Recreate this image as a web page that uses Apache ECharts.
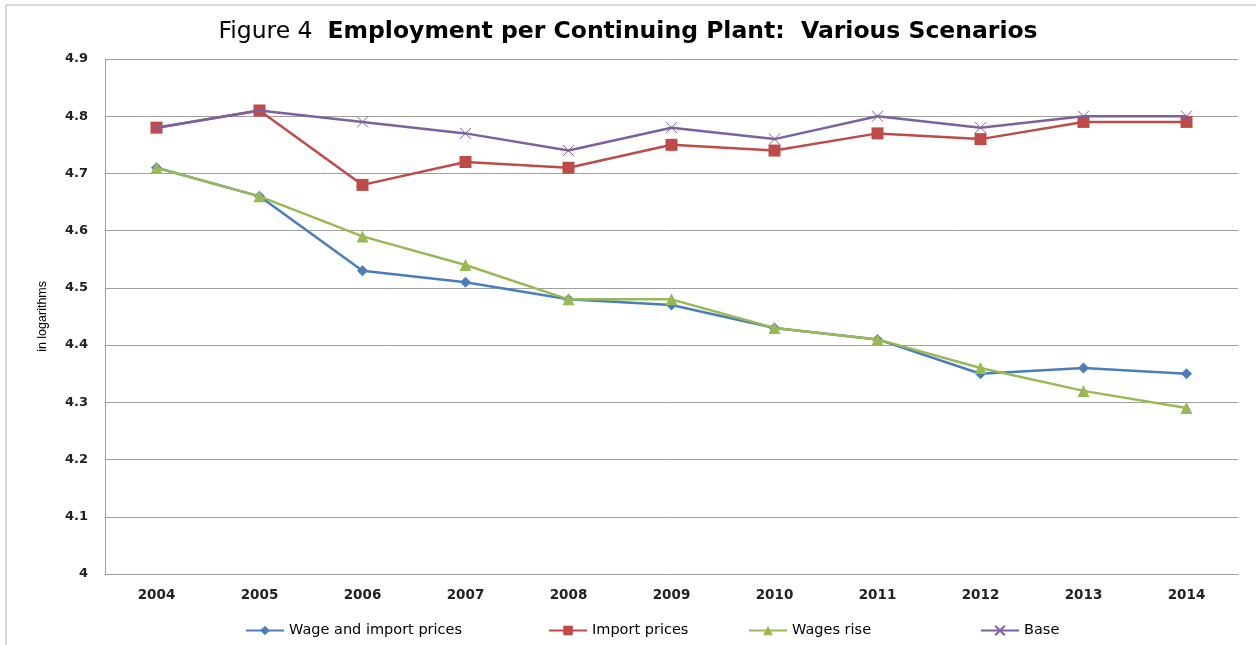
<!DOCTYPE html>
<html>
<head>
<meta charset="utf-8">
<script src="https://cdn.jsdelivr.net/npm/echarts@6/dist/echarts.min.js"></script>
<style>
  html, body { margin: 0; padding: 0; background: #fff; }
  #chart { width: 1256px; height: 645px; }
</style>
</head>
<body>
<div id="chart"></div>
<script>
// years on the x axis
const years = ['2004', '2005', '2006', '2007', '2008', '2009', '2010', '2011', '2012', '2013', '2014'];

// series values (log employment per plant)
const wageImport = [4.71, 4.66, 4.53, 4.51, 4.48, 4.47, 4.43, 4.41, 4.35, 4.36, 4.35];
const importPrices = [4.78, 4.81, 4.68, 4.72, 4.71, 4.75, 4.74, 4.77, 4.76, 4.79, 4.79];
const wagesRise = [4.71, 4.66, 4.59, 4.54, 4.48, 4.48, 4.43, 4.41, 4.36, 4.32, 4.29];
const base = [4.78, 4.81, 4.79, 4.77, 4.74, 4.78, 4.76, 4.80, 4.78, 4.80, 4.80];

const names = ['Wage and import prices', 'Import prices', 'Wages rise', 'Base'];
const colors = ['#4a7ebb', '#be4b48', '#98b954', '#7d60a0'];

const chart = echarts.init(document.getElementById('chart'));

const legendFont = { fontFamily: 'DejaVu Sans, sans-serif', fontSize: 14.5, color: '#000' };
const legendAt = [240, 543, 743, 975];

const crossPath = 'path://M0,0L10,10M10,0L0,10';

chart.setOption({
  animation: false,
  title: {
    text: '{n|Figure 4  }{b|Employment per Continuing Plant:  Various Scenarios}',
    left: 'center',
    top: 15,
    textStyle: {
      rich: {
        n: { fontFamily: 'DejaVu Sans, sans-serif', fontSize: 23.5, fontWeight: 'normal', color: '#000' },
        b: { fontFamily: 'DejaVu Sans, sans-serif', fontSize: 23.5, fontWeight: 'bold', color: '#000' }
      }
    }
  },
  graphic: [
    { type: 'line', shape: { x1: 6, y1: 5, x2: 1256, y2: 5 }, style: { stroke: '#b0b0b0', lineWidth: 1 } },
    { type: 'line', shape: { x1: 6, y1: 5, x2: 6, y2: 645 }, style: { stroke: '#b0b0b0', lineWidth: 1 } },
    {
      type: 'text', left: 36, top: 281, rotation: Math.PI / 2,
      style: { text: 'in logarithms', fontFamily: 'Liberation Sans Narrow, Liberation Sans, sans-serif', fontSize: 12.5, fill: '#000' }
    }
  ],
  legend: names.map((n, i) => ({
    data: [n],
    left: legendAt[i],
    top: 618,
    itemWidth: 38,
    itemHeight: 12,
    itemGap: 0,
    textStyle: legendFont,
    selectedMode: false
  })),
  grid: { left: 105, right: 18, top: 59, bottom: 71 },
  xAxis: {
    type: 'category',
    data: years,
    boundaryGap: true,
    axisLine: { lineStyle: { color: '#a0a0a0' } },
    axisTick: { show: false },
    axisLabel: { margin: 14, fontFamily: 'DejaVu Sans, sans-serif', fontWeight: 'bold', fontSize: 13.5, color: '#222' }
  },
  yAxis: {
    type: 'value',
    min: 4,
    max: 4.9,
    interval: 0.1,
    axisLine: { show: true, lineStyle: { color: '#a0a0a0' } },
    axisTick: { show: false },
    splitLine: { lineStyle: { color: '#a0a0a0' } },
    axisLabel: {
      margin: 17,
      fontFamily: 'DejaVu Sans, sans-serif', fontWeight: 'bold', fontSize: 13, color: '#222',
      formatter: v => (Math.round(v * 10) / 10).toString()
    }
  },
  series: [
    {
      name: names[0], type: 'line', data: wageImport,
      symbol: 'diamond', symbolSize: 11,
      lineStyle: { color: colors[0], width: 2.5 },
      itemStyle: { color: colors[0] }, z: 2
    },
    {
      name: names[1], type: 'line', data: importPrices,
      symbol: 'rect', symbolSize: 12,
      lineStyle: { color: colors[1], width: 2.5 },
      itemStyle: { color: colors[1] }, z: 2
    },
    {
      name: names[2], type: 'line', data: wagesRise,
      symbol: 'triangle', symbolSize: 12,
      lineStyle: { color: colors[2], width: 2.5 },
      itemStyle: { color: colors[2] }, z: 3
    },
    {
      name: names[3], type: 'line', data: base,
      symbol: crossPath, symbolSize: 11,
      lineStyle: { color: colors[3], width: 2.5 },
      itemStyle: { color: colors[3], borderColor: colors[3], borderWidth: 1 }, z: 3
    }
  ]
});
</script>
</body>
</html>
